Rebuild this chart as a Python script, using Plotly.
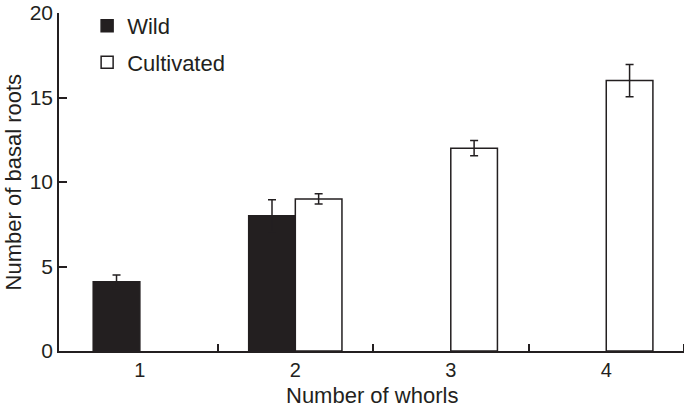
import plotly.graph_objects as go

# Number of whorls (categories)
whorls = [1, 2, 3, 4]

# Mean number of basal roots (None = no bar)
wild_mean = [4.1, 8.0, None, None]
wild_err = [0.4, 0.95, None, None]
cult_mean = [None, 9.0, 12.0, 16.0]
cult_err = [None, 0.3, 0.45, 0.95]

font_family = "Liberation Sans, Arial, Helvetica, sans-serif"
ink = "#231f20"


def create_chart():
    fig = go.Figure()

    fig.add_trace(go.Bar(
        name="Wild",
        x=whorls,
        y=wild_mean,
        error_y=dict(type="data", array=wild_err, color=ink, thickness=1.5, width=4),
        marker=dict(color=ink, line=dict(color=ink, width=1.5)),
        legendgroup="a",
    ))
    fig.add_trace(go.Bar(
        name="Cultivated",
        x=whorls,
        y=cult_mean,
        error_y=dict(type="data", array=cult_err, color=ink, thickness=1.5, width=4),
        marker=dict(color="white", line=dict(color=ink, width=1.5)),
        legendgroup="b",
    ))

    fig.update_layout(
        width=684,
        height=407,
        barmode="group",
        bargap=0.4,
        bargroupgap=0,
        plot_bgcolor="white",
        paper_bgcolor="white",
        font=dict(family=font_family, size=21, color=ink),
        margin=dict(l=59, r=0, t=13, b=56),
        showlegend=True,
        legend=dict(
            x=0.045, y=1.024, xanchor="left", yanchor="top",
            bgcolor="rgba(0,0,0,0)",
            font=dict(size=22),
            tracegroupgap=5,
            itemwidth=30,
        ),
        xaxis=dict(
            range=[0.48, 4.5],
            tickvals=whorls,
            ticktext=[str(w) for w in whorls],
            ticks="",
            tickfont=dict(size=20),
            showline=True,
            linecolor=ink,
            linewidth=1.5,
            showgrid=False,
            zeroline=False,
            minor=dict(tickvals=[1.5, 2.5, 3.5, 4.5], ticks="inside",
                       ticklen=7, tickcolor=ink, tickwidth=1.5, showgrid=False),
            automargin=False,
        ),
        yaxis=dict(
            range=[0, 20],
            tickvals=[0, 5, 10, 15, 20],
            ticks="inside",
            ticklen=8,
            tickwidth=1.5,
            tickcolor=ink,
            showline=True,
            linecolor=ink,
            linewidth=1.5,
            showgrid=False,
            zeroline=False,
            automargin=False,
        ),
        annotations=[
            dict(text="Number of whorls", xref="paper", yref="paper",
                 x=0.5, y=-0.131, xanchor="center", yanchor="middle",
                 showarrow=False, font=dict(size=22)),
            dict(text="Number of basal roots", xref="paper", yref="paper",
                 x=-0.073, y=0.5, xanchor="center", yanchor="middle",
                 textangle=-90, showarrow=False, font=dict(size=22)),
        ],
    )
    return fig


if __name__ == "__main__":
    fig = create_chart()
    # drop the default page margin so the 684x407 figure fills the window
    fig.write_html("out.html", config={"displayModeBar": False},
                   post_script="document.body.style.margin='0';")
